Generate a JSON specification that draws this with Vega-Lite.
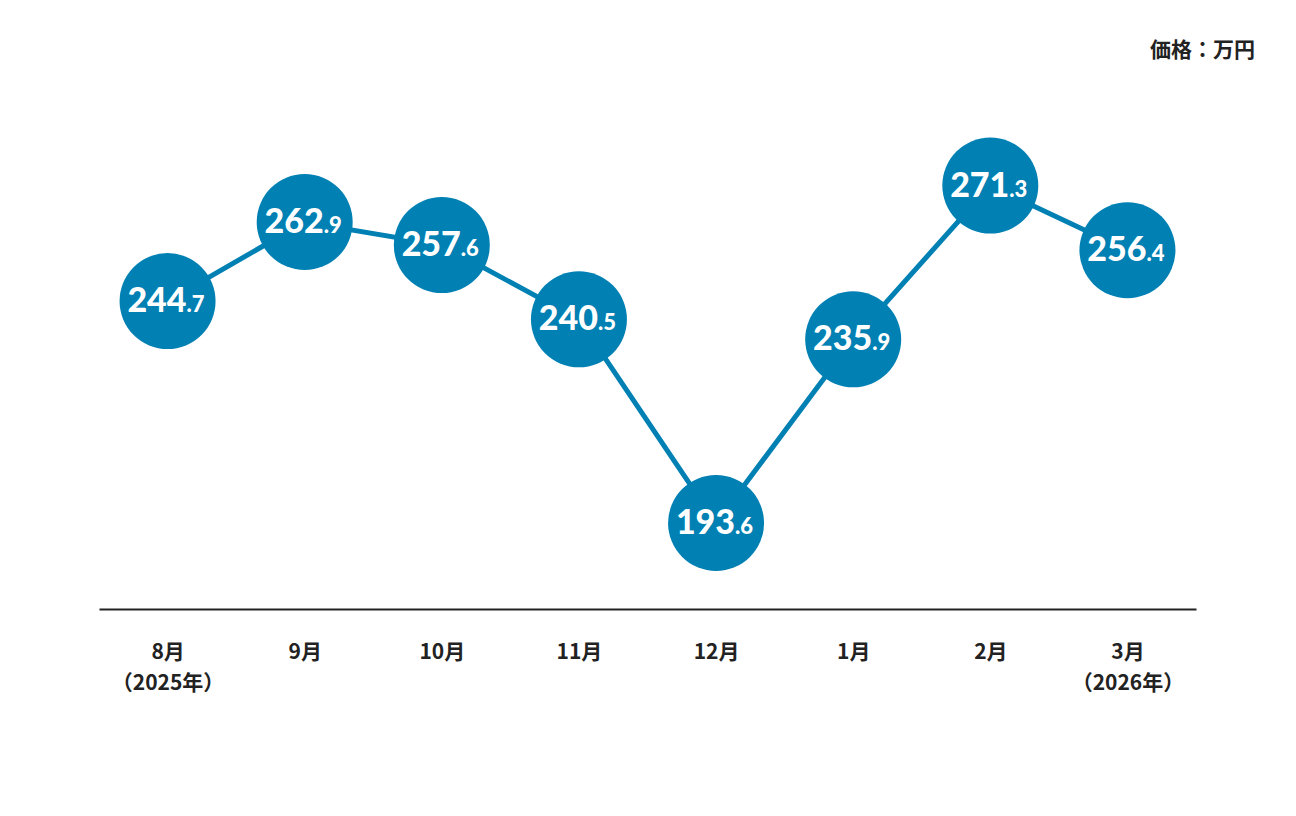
{
  "$schema": "https://vega.github.io/schema/vega-lite/v6.json",
  "autosize": "none",
  "width": 1097,
  "height": 529,
  "padding": {"left": 99, "top": 80, "right": 100, "bottom": 207},
  "background": "white",
  "title": {"text": "価格：万円", "anchor": "end", "frame": "group", "dx": 59, "offset": 19, "fontSize": 21, "font": "Noto Sans CJK JP", "fontWeight": "bold", "color": "#222222"},
  "data": {"values": [
    {"month": "8月", "value": 244.7, "whole": "244", "frac": ".7"},
    {"month": "9月", "value": 262.9, "whole": "262", "frac": ".9"},
    {"month": "10月", "value": 257.6, "whole": "257", "frac": ".6"},
    {"month": "11月", "value": 240.5, "whole": "240", "frac": ".5"},
    {"month": "12月", "value": 193.6, "whole": "193", "frac": ".6"},
    {"month": "1月", "value": 235.9, "whole": "235", "frac": ".9"},
    {"month": "2月", "value": 271.3, "whole": "271", "frac": ".3"},
    {"month": "3月", "value": 256.4, "whole": "256", "frac": ".4"}
  ]},
  "encoding": {
    "x": {"field": "month", "type": "ordinal", "sort": null, "title": null,
      "scale": {"type": "point", "padding": 0.5},
      "axis": {"domainColor": "#222222", "domainWidth": 2, "ticks": false, "grid": false,
        "labelFont": "Noto Sans CJK JP", "labelFontWeight": "bold", "labelFontSize": 21, "labelColor": "#222222",
        "labelPadding": 32, "labelLineHeight": 31, "labelAngle": 0,
        "labelExpr": "datum.value == '8月' ? ['8月', '（2025年）'] : datum.value == '3月' ? ['3月', '（2026年）'] : datum.value"}},
    "y": {"field": "value", "type": "quantitative", "scale": {"domain": [173.8, 295.6], "nice": false, "zero": false}, "axis": null}
  },
  "layer": [
    {"mark": {"type": "line", "color": "#0080B3", "strokeWidth": 5}},
    {"mark": {"type": "point", "shape": "circle", "filled": true, "opacity": 1, "color": "#0080B3", "size": 9216, "strokeWidth": 0}},
    {"mark": {"type": "text", "align": "right", "baseline": "alphabetic", "dx": 19, "dy": 11, "font": "Lato", "fontWeight": 900, "fontSize": 34, "color": "white"},
     "encoding": {"text": {"field": "whole"}}},
    {"mark": {"type": "text", "align": "left", "baseline": "alphabetic", "dx": 19, "dy": 11, "font": "Lato", "fontWeight": 900, "fontSize": 22, "color": "white"},
     "encoding": {"text": {"field": "frac"}}}
  ],
  "config": {"view": {"stroke": null}}
}
